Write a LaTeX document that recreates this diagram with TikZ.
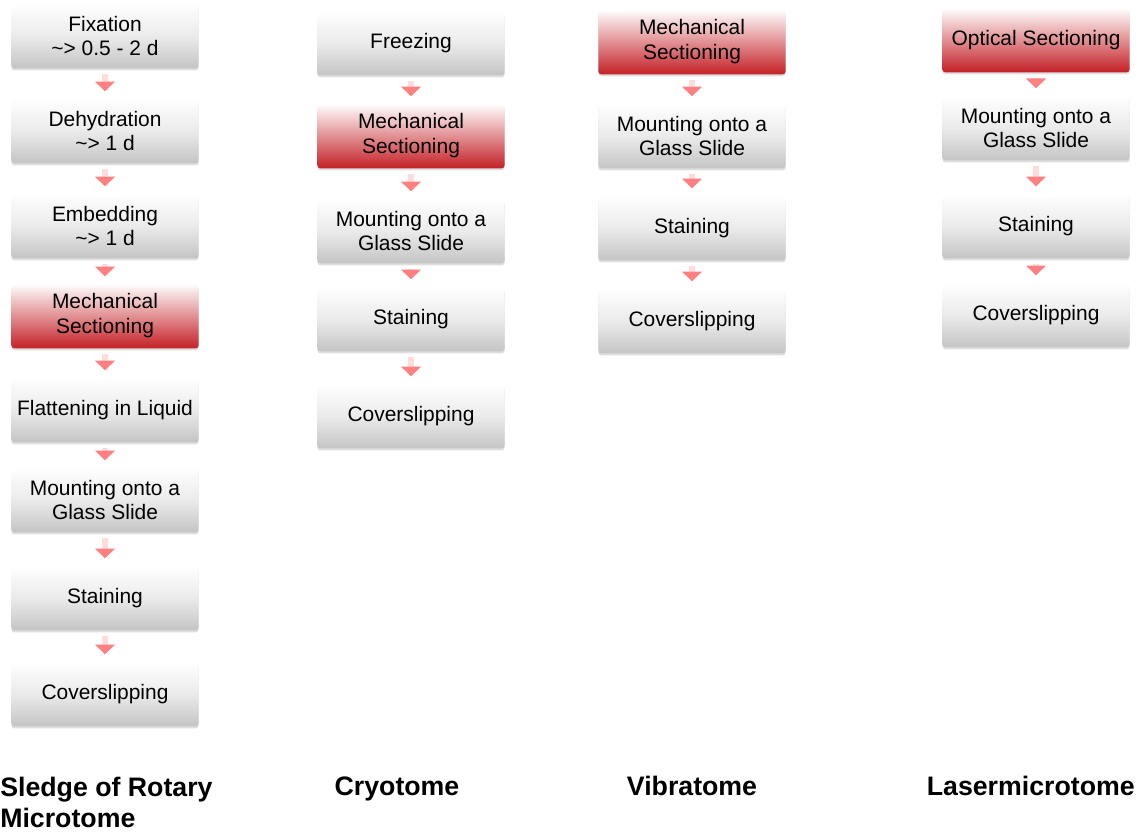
\documentclass[tikz,border=0pt]{standalone}
\usepackage{fontspec}
\setmainfont{Liberation Sans}
\usepackage{xcolor}
\usetikzlibrary{arrows.meta,shadows}

\definecolor{boxred}{RGB}{196,32,38}
\definecolor{boxgray}{RGB}{196,196,196}

\tikzset{
  stepbox/.style={rectangle, rounded corners=2pt, minimum width=133pt, minimum height=46pt,
    inner sep=1pt, align=center, font=\fontsize{14.9}{17.7}\selectfont,
    top color=white, bottom color=boxgray, middle color=black!8,
    drop shadow={shadow xshift=0pt, shadow yshift=-1.5pt, opacity=0.25}},
  cutbox/.style={stepbox, middle color=boxred!40, bottom color=boxred},
  steparrow/.style={draw=red!14, line width=4.3pt, shorten <=4pt, shorten >=5pt,
    -{Triangle[width=14pt,length=7pt,color=red!50]}},
  title/.style={font=\fontsize{19}{22}\selectfont\bfseries, inner sep=0pt}
}

\begin{document}
\begin{tikzpicture}[x=0.025cm, y=-0.025cm]
\useasboundingbox (0,0) rectangle (1137,834);
% sledge / rotary microtome
\node[stepbox] (fix) at (105,36) {Fixation\\\textasciitilde> 0.5 - 2 d};
\node[stepbox] (dehyd) at (105,131) {Dehydration\\\textasciitilde> 1 d};
\node[stepbox] (embed) at (105,226) {Embedding\\\textasciitilde> 1 d};
\node[cutbox] (mechA) at (105,316) {Mechanical\\Sectioning};
\node[stepbox] (flat) at (105,410) {Flattening in Liquid};
\node[stepbox] (mountA) at (105,500) {Mounting onto a\\Glass Slide};
\node[stepbox] (stainA) at (105,598) {Staining};
\node[stepbox] (coverA) at (105,694) {Coverslipping};
% cryotome
\node[stepbox] (freeze) at (411,43) {Freezing};
\node[cutbox] (mechB) at (411,136) {Mechanical\\Sectioning};
\node[stepbox] (mountB) at (411,231) {Mounting onto a\\Glass Slide};
\node[stepbox] (stainB) at (411,319) {Staining};
\node[stepbox] (coverB) at (411,416) {Coverslipping};
% vibratome
\node[cutbox] (mechC) at (692,42) {Mechanical\\Sectioning};
\node[stepbox] (mountC) at (692,136) {Mounting onto a\\Glass Slide};
\node[stepbox] (stainC) at (692,228) {Staining};
\node[stepbox] (coverC) at (692,321) {Coverslipping};
% lasermicrotome
\node[cutbox] (optD) at (1036,40) {Optical Sectioning};
\node[stepbox] (mountD) at (1036,128) {Mounting onto a\\Glass Slide};
\node[stepbox] (stainD) at (1036,226) {Staining};
\node[stepbox] (coverD) at (1036,315) {Coverslipping};
% arrows
\foreach \a/\b in {fix/dehyd, dehyd/embed, embed/mechA, mechA/flat, flat/mountA,
  mountA/stainA, stainA/coverA, freeze/mechB, mechB/mountB, mountB/stainB,
  stainB/coverB, mechC/mountC, mountC/stainC, stainC/coverC, optD/mountD,
  mountD/stainD, stainD/coverD}
  \draw[steparrow] (\a) -- (\b);
% column titles
\node[title, anchor=west, align=left] (sledge) at (0,802) {Sledge of Rotary\\Microtome};
\node[title, anchor=base] (cryo) at (397,795) {Cryotome};
\node[title, anchor=base] (vibra) at (692,795) {Vibratome};
\node[title, anchor=base east] (laser) at (1135,795) {Lasermicrotome};
\end{tikzpicture}
\end{document}
